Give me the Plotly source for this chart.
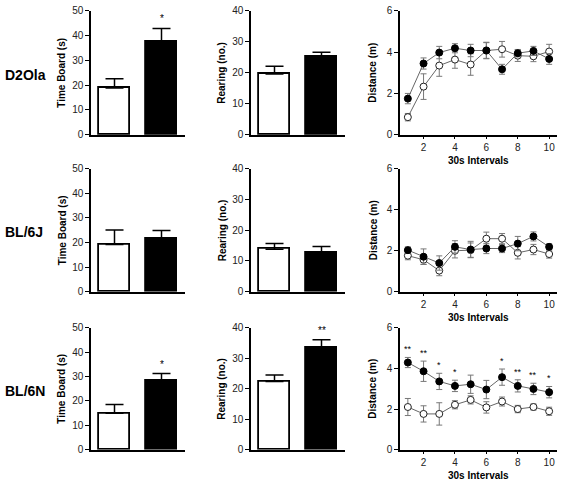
import plotly.graph_objects as go

# ---------------- data ----------------
strains = ["D2Ola", "BL/6J", "BL/6N"]

# Time Board (s): [white, black]
timeboard_mean = [[18.9, 37.4], [19.2, 21.4], [14.9, 28.3]]
timeboard_sem = [[3.7, 5.5], [5.9, 3.5], [3.6, 2.9]]
timeboard_stars = ["*", "", "*"]

# Rearing (no.)
rearing_mean = [[19.6, 25.1], [13.8, 12.8], [22.4, 33.6]]
rearing_sem = [[2.5, 1.5], [1.9, 1.9], [2.1, 2.5]]
rearing_stars = ["", "", "**"]

# Distance (m) over 30s intervals
intervals = [1, 2, 3, 4, 5, 6, 7, 8, 9, 10]

dist_open = [
    [0.85, 2.33, 3.35, 3.64, 3.40, 4.08, 4.14, 3.83, 3.80, 4.03],
    [1.76, 1.56, 1.03, 2.00, 2.03, 2.59, 2.59, 1.90, 2.06, 1.84],
    [2.10, 1.76, 1.76, 2.21, 2.45, 2.08, 2.37, 2.00, 2.10, 1.89],
]
dist_open_sem = [
    [0.18, 0.62, 0.52, 0.42, 0.52, 0.38, 0.38, 0.28, 0.26, 0.35],
    [0.20, 0.22, 0.25, 0.35, 0.35, 0.32, 0.25, 0.30, 0.25, 0.20],
    [0.42, 0.40, 0.55, 0.20, 0.20, 0.28, 0.22, 0.18, 0.15, 0.20],
]
dist_filled = [
    [1.75, 3.45, 3.98, 4.19, 4.08, 4.08, 3.17, 3.95, 4.06, 3.67],
    [2.03, 1.71, 1.40, 2.19, 2.06, 2.11, 2.11, 2.35, 2.70, 2.19],
    [4.29, 3.86, 3.36, 3.14, 3.22, 2.96, 3.57, 3.14, 2.99, 2.83],
]
dist_filled_sem = [
    [0.25, 0.27, 0.30, 0.22, 0.30, 0.40, 0.24, 0.18, 0.22, 0.26],
    [0.16, 0.38, 0.35, 0.30, 0.40, 0.25, 0.20, 0.35, 0.22, 0.15],
    [0.25, 0.50, 0.40, 0.28, 0.45, 0.45, 0.40, 0.30, 0.28, 0.28],
]
dist_stars = [
    [""] * 10,
    [""] * 10,
    ["**", "**", "*", "*", "", "", "*", "**", "**", "*"],
]

# ---------------- layout helpers ----------------
W, H = 561, 482
FONT = "Arial, 'Liberation Sans', sans-serif"
col_px = [(91, 185), (251, 345), (400, 557)]
row_px = [(5, 132), (167, 293), (330, 455)]
TICKFONT = dict(family=FONT, size=10, color="#222")


def px_x(p):
    return p / W


def px_y(p):
    return 1 - p / H


fig = go.Figure()
annotations = []
layout = {}

for r in range(3):
    for c in range(3):
        k = r * 3 + c + 1
        xa = f"x{k}" if k > 1 else "x"
        ya = f"y{k}" if k > 1 else "y"
        xkey = f"xaxis{k}" if k > 1 else "xaxis"
        ykey = f"yaxis{k}" if k > 1 else "yaxis"
        x0, x1 = col_px[c]
        y0, y1 = row_px[r]
        xdom = [px_x(x0), px_x(x1)]
        ydom = [px_y(y1), px_y(y0)]

        if c < 2:
            means = timeboard_mean[r] if c == 0 else rearing_mean[r]
            sems = timeboard_sem[r] if c == 0 else rearing_sem[r]
            star = timeboard_stars[r] if c == 0 else rearing_stars[r]
            ymax = 50 if c == 0 else 40
            fig.add_trace(go.Bar(
                x=[0, 1], y=means, width=0.66,
                marker=dict(color=["white", "black"],
                            line=dict(color="black", width=1.8)),
                error_y=dict(type="data", array=sems,
                             arrayminus=[0, 0], symmetric=False,
                             color="black", thickness=1.5, width=9),
                xaxis=xa, yaxis=ya, showlegend=False,
            ))
            layout[xkey] = dict(domain=xdom, range=[-0.5, 1.5], anchor=ya,
                                showline=True, linecolor="black", linewidth=1.5,
                                showticklabels=False, ticks="", showgrid=False,
                                zeroline=False, fixedrange=True)
            layout[ykey] = dict(domain=ydom, range=[0, ymax], anchor=xa,
                                dtick=10, showline=True, linecolor="black",
                                linewidth=1.5, ticks="outside", ticklen=4,
                                tickwidth=1, tickcolor="black",
                                tickfont=TICKFONT,
                                showgrid=False, zeroline=False, fixedrange=True)
            if star:
                annotations.append(dict(
                    x=1, y=means[1] + sems[1], xref=xa, yref=ya, text=star,
                    showarrow=False, xanchor="center", yanchor="bottom", yshift=2,
                    font=dict(family=FONT, size=10, color="black")))
            title = "Time Board (s)" if c == 0 else "Rearing (no.)"
            tx = 62 if c == 0 else 222
            annotations.append(dict(
                x=px_x(tx), y=px_y((y0 + y1) / 2), xref="paper", yref="paper",
                xanchor="center", yanchor="middle",
                text=f"<b>{title}</b>", textangle=-90, showarrow=False,
                font=dict(family=FONT, size=10, color="black")))
        else:
            fig.add_trace(go.Scatter(
                x=intervals, y=dist_open[r], mode="lines+markers",
                line=dict(color="#666", width=1),
                marker=dict(symbol="circle", size=7, color="white",
                            line=dict(color="#222", width=1)),
                error_y=dict(type="data", array=dist_open_sem[r],
                             color="#777", thickness=1, width=3),
                xaxis=xa, yaxis=ya, showlegend=False,
            ))
            fig.add_trace(go.Scatter(
                x=intervals, y=dist_filled[r], mode="lines+markers",
                line=dict(color="#666", width=1),
                marker=dict(symbol="circle", size=7, color="black",
                            line=dict(color="black", width=1)),
                error_y=dict(type="data", array=dist_filled_sem[r],
                             color="#777", thickness=1, width=3),
                xaxis=xa, yaxis=ya, showlegend=False,
            ))
            layout[xkey] = dict(domain=xdom, range=[0.5, 10.5], anchor=ya,
                                tickvals=[2, 4, 6, 8, 10],
                                showline=True, linecolor="black", linewidth=1.5,
                                ticks="outside", ticklen=3, tickwidth=1,
                                tickcolor="black",
                                tickfont=TICKFONT,
                                showgrid=False, zeroline=False, fixedrange=True)
            layout[ykey] = dict(domain=ydom, range=[0, 6], anchor=xa,
                                dtick=2, showline=True, linecolor="black",
                                linewidth=1.5, ticks="outside", ticklen=4,
                                tickwidth=1, tickcolor="black",
                                tickfont=TICKFONT,
                                showgrid=False, zeroline=False, fixedrange=True)
            for i, s in enumerate(dist_stars[r]):
                if s:
                    annotations.append(dict(
                        x=intervals[i], y=dist_filled[r][i] + dist_filled_sem[r][i],
                        xref=xa, yref=ya, text=s, showarrow=False,
                        xanchor="center", yanchor="bottom", yshift=1,
                        font=dict(family=FONT, size=9, color="black")))
            annotations.append(dict(
                x=px_x(373), y=px_y((y0 + y1) / 2), xref="paper", yref="paper",
                xanchor="center", yanchor="middle",
                text="<b>Distance (m)</b>", textangle=-90, showarrow=False,
                font=dict(family=FONT, size=10, color="black")))
            annotations.append(dict(
                x=px_x((x0 + x1) / 2), y=px_y(y1 + 19), xref="paper", yref="paper",
                xanchor="center", yanchor="top",
                text="<b>30s Intervals</b>", showarrow=False,
                font=dict(family=FONT, size=10, color="black")))

    annotations.append(dict(
        x=px_x(3), y=px_y((row_px[r][0] + row_px[r][1]) / 2 + 2),
        xref="paper", yref="paper", xanchor="left", yanchor="middle",
        text=f"<b>{strains[r]}</b>", showarrow=False,
        font=dict(family=FONT, size=14, color="black")))

fig.update_layout(
    width=W, height=H,
    margin=dict(l=0, r=0, t=0, b=0),
    paper_bgcolor="white", plot_bgcolor="white",
    bargap=0, annotations=annotations,
    font=dict(family=FONT),
    **layout,
)

fig.write_html(
    "out.html",
    config={"displayModeBar": False},
    post_script="document.body.style.margin='0';document.body.style.padding='0';"
                "document.body.style.overflow='hidden';"
                "document.documentElement.style.overflow='hidden';",
)
